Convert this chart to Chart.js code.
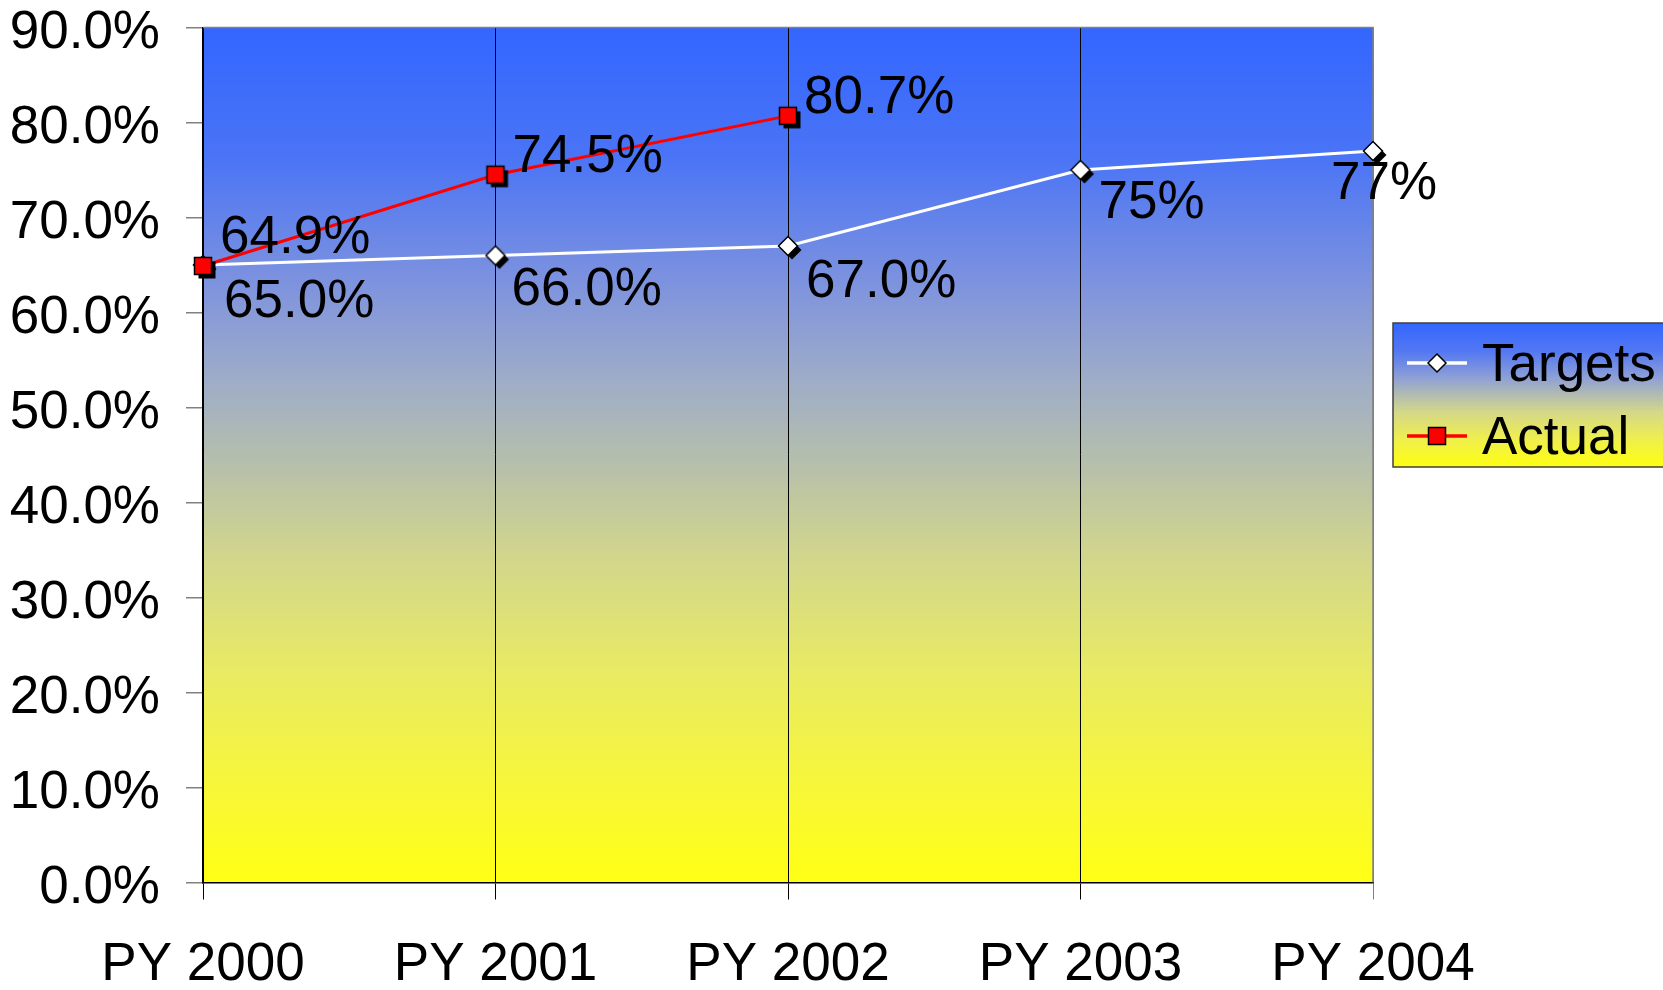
<!DOCTYPE html>
<html>
<head>
<meta charset="utf-8">
<script src="https://cdn.jsdelivr.net/npm/chart.js@4.4.0/dist/chart.umd.min.js"></script>
<style>
html,body{margin:0;padding:0;background:#ffffff;}
#wrap{width:1663px;height:990px;position:relative;}
</style>
</head>
<body>
<div id="wrap"><canvas id="c" width="1663" height="990"></canvas></div>
<script>
// ---- data ----
const categories = ['PY 2000', 'PY 2001', 'PY 2002', 'PY 2003', 'PY 2004'];
const targets = [65, 66, 67, 75, 77];
const actual = [64.9, 74.5, 80.7, null, null];
const targetLabels = ['65.0%', '66.0%', '67.0%', '75%', '77%'];
const actualLabels = ['64.9%', '74.5%', '80.7%'];
const seriesNames = ['Targets', 'Actual'];
const yMin = 0, yMax = 90, yStep = 10;

// ---- styling ----
const FONT = "'Liberation Sans', Arial, sans-serif";
const FS = 53;
const CAP = 0.716 * FS;

function makeMarker(type, fill, shadow, s) {
  const off = shadow ? 4 : 0;
  const W = 2 * Math.ceil(s / 2 + off + 2);
  const c = document.createElement('canvas');
  c.width = W; c.height = W;
  const g = c.getContext('2d');
  const cx = W / 2, cy = W / 2;
  function shape(x0, y0) {
    g.beginPath();
    if (type === 'rect') {
      g.rect(x0 - s / 2, y0 - s / 2, s, s);
    } else {
      g.moveTo(x0, y0 - s / 2);
      g.lineTo(x0 + s / 2, y0);
      g.lineTo(x0, y0 + s / 2);
      g.lineTo(x0 - s / 2, y0);
      g.closePath();
    }
  }
  if (off) { shape(cx + off, cy + off); g.fillStyle = '#000'; g.fill(); }
  shape(cx, cy);
  g.fillStyle = fill; g.fill();
  g.lineWidth = 1.5; g.strokeStyle = '#000'; g.stroke();
  return c;
}

const diamondMarker = makeMarker('diamond', '#ffffff', true, 19);
const squareMarker = makeMarker('rect', '#ff0000', true, 17);
const diamondLegend = makeMarker('diamond', '#ffffff', false, 18);
const squareLegend = makeMarker('rect', '#ff0000', false, 17);

function addStops(grad) {
  grad.addColorStop(0.00, '#3366ff');
  grad.addColorStop(0.15, '#4a74f6');
  grad.addColorStop(0.30, '#7e93de');
  grad.addColorStop(0.42, '#a0aec6');
  grad.addColorStop(0.52, '#b8c1a8');
  grad.addColorStop(0.62, '#d2d68c');
  grad.addColorStop(0.75, '#e8ea64');
  grad.addColorStop(0.88, '#f6f63c');
  grad.addColorStop(1.00, '#ffff14');
}

const bgPlugin = {
  id: 'plotBg',
  beforeDraw(chart) {
    const {ctx, chartArea: a} = chart;
    const grad = ctx.createLinearGradient(0, a.top, 0, a.bottom);
    addStops(grad);
    ctx.save();
    ctx.fillStyle = grad;
    ctx.fillRect(a.left, a.top, a.right - a.left, a.bottom - a.top);
    ctx.restore();
  },
  beforeDatasetsDraw(chart) {
    const {ctx, chartArea: a} = chart;
    ctx.save();
    ctx.strokeStyle = '#808080';
    ctx.lineWidth = 1.5;
    ctx.beginPath();
    ctx.moveTo(a.left, a.top);
    ctx.lineTo(a.right, a.top);
    ctx.lineTo(a.right, a.bottom);
    ctx.stroke();
    ctx.restore();
  }
};

const labelOffsets = {
  0: {dx: [21, 16, 18, 18, -42], dy: [33, 31, 32, 29, 29]},
  1: {dx: [17, 17, 16], dy: [-32, -22, -22]}
};
const labelTexts = {0: targetLabels, 1: actualLabels};

const labelPlugin = {
  id: 'pointLabels',
  afterDatasetsDraw(chart) {
    const {ctx} = chart;
    ctx.save();
    ctx.font = FS + 'px ' + FONT;
    ctx.fillStyle = '#000';
    ctx.textAlign = 'left';
    ctx.textBaseline = 'alphabetic';
    [0, 1].forEach(di => {
      const meta = chart.getDatasetMeta(di);
      const texts = labelTexts[di];
      const off = labelOffsets[di];
      meta.data.forEach((pt, i) => {
        if (texts[i] === undefined) return;
        const v = chart.data.datasets[di].data[i];
        if (v === null || v === undefined) return;
        ctx.fillText(texts[i], pt.x + off.dx[i], pt.y + off.dy[i] + CAP / 2);
      });
    });
    ctx.restore();
  }
};

const legendPlugin = {
  id: 'customLegend',
  afterDraw(chart) {
    const {ctx} = chart;
    const L = 1393, T = 323, R = 1672, B = 467;
    ctx.save();
    const grad = ctx.createLinearGradient(0, T, 0, B);
    grad.addColorStop(0.00, '#3366ff');
    grad.addColorStop(0.20, '#5478f2');
    grad.addColorStop(0.38, '#8ea0d6');
    grad.addColorStop(0.50, '#b2bcb0');
    grad.addColorStop(0.62, '#d4d888');
    grad.addColorStop(0.80, '#eeee50');
    grad.addColorStop(1.00, '#ffff10');
    ctx.fillStyle = grad;
    ctx.fillRect(L, T, R - L, B - T);
    ctx.strokeStyle = '#404040';
    ctx.lineWidth = 1.5;
    ctx.strokeRect(L, T, R - L, B - T);
    const rows = [
      {y: 363, color: '#ffffff', marker: diamondLegend, text: seriesNames[0]},
      {y: 436, color: '#ff0000', marker: squareLegend, text: seriesNames[1]}
    ];
    ctx.font = FS + 'px ' + FONT;
    ctx.textBaseline = 'alphabetic';
    ctx.textAlign = 'left';
    rows.forEach(r => {
      ctx.strokeStyle = r.color;
      ctx.lineWidth = 3.3;
      ctx.beginPath();
      ctx.moveTo(1407, r.y);
      ctx.lineTo(1467, r.y);
      ctx.stroke();
      ctx.drawImage(r.marker, 1437 - r.marker.width / 2, r.y - r.marker.height / 2);
      ctx.fillStyle = '#000';
      ctx.fillText(r.text, 1482, r.y + CAP / 2 - 1);
    });
    ctx.restore();
  }
};

new Chart(document.getElementById('c'), {
  type: 'line',
  data: {
    labels: categories,
    datasets: [
      {
        label: seriesNames[0],
        data: targets,
        borderColor: '#ffffff',
        borderWidth: 3,
        pointStyle: diamondMarker,
        pointRadius: 11,
        tension: 0,
        clip: false,
        order: 1
      },
      {
        label: seriesNames[1],
        data: actual,
        borderColor: '#ff0000',
        borderWidth: 3,
        pointStyle: squareMarker,
        pointRadius: 11,
        tension: 0,
        clip: false,
        spanGaps: false,
        order: 0
      }
    ]
  },
  options: {
    responsive: false,
    devicePixelRatio: 1,
    animation: false,
    events: [],
    layout: {padding: {top: 27.5, right: 290, left: 0, bottom: 0}},
    plugins: {
      legend: {display: false},
      tooltip: {enabled: false}
    },
    scales: {
      x: {
        type: 'category',
        offset: false,
        grid: {
          offset: false,
          color: (c) => (c.index === categories.length - 1 ? '#808080' : '#000000'),
          lineWidth: 1,
          tickLength: 17,
          drawOnChartArea: true,
          drawTicks: true
        },
        border: {color: '#000000', width: 1.5},
        ticks: {
          font: {family: FONT, size: FS},
          color: '#000',
          padding: 34,
          maxRotation: 0,
          autoSkip: false
        },
        afterFit(s) { s.height = 107.5; s.paddingLeft = 0; s.paddingRight = 0; }
      },
      y: {
        type: 'linear',
        min: yMin,
        max: yMax,
        grid: {
          drawOnChartArea: false,
          drawTicks: true,
          tickLength: 17,
          color: '#808080',
          lineWidth: 1.5
        },
        border: {color: '#000000', width: 1.5},
        ticks: {
          stepSize: yStep,
          font: {family: FONT, size: FS},
          color: '#000',
          padding: 26,
          labelOffset: 6,
          callback: (v) => v.toFixed(1) + '%'
        },
        afterFit(s) { s.width = 203; s.paddingTop = 0; s.paddingBottom = 0; }
      }
    }
  },
  plugins: [bgPlugin, labelPlugin, legendPlugin]
});
</script>
</body>
</html>
